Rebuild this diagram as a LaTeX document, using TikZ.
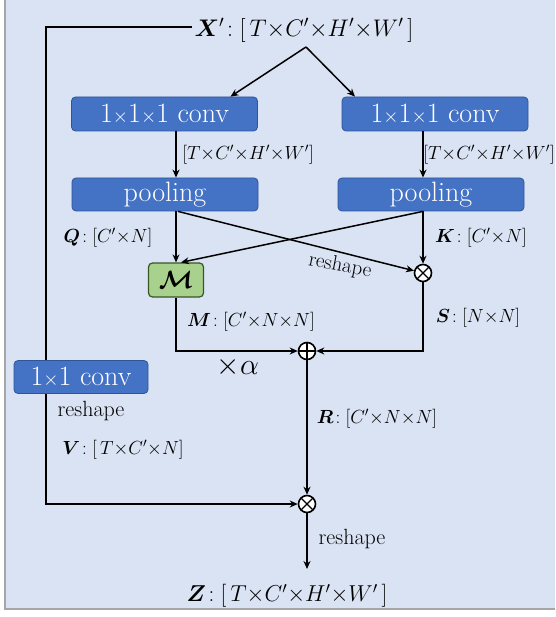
\RequirePackage{fix-cm}
\documentclass[tikz,border=0pt]{standalone}
\usepackage{amsmath,bm}
\usetikzlibrary{arrows.meta,calc}
\definecolor{bgblue}{HTML}{DAE3F3}
\definecolor{boxblue}{HTML}{4472C4}
\definecolor{boxedge}{HTML}{2F5597}
\definecolor{mgreen}{HTML}{A9D18E}
\definecolor{medge}{HTML}{385723}
\definecolor{frame}{HTML}{A6A6A6}
\tikzset{
  arr/.style={line width=1.5pt,-{Stealth[length=8pt,width=7pt]}},
  convbox/.style={draw=boxedge,line width=0.8pt,fill=boxblue,rounded corners=4pt,text=white,
    font=\fontsize{28}{31}\selectfont,inner sep=0pt},
  lab/.style={font=\fontsize{19}{22}\selectfont,inner sep=1pt},
  wordlab/.style={font=\fontsize{22}{26}\selectfont,inner sep=1pt},
  otimesnode/.style={circle,draw,line width=1.6pt,fill=white,minimum size=17pt,inner sep=0pt,
    path picture={\draw[line width=1.3pt] (path picture bounding box.north west)--(path picture bounding box.south east)
      (path picture bounding box.north east)--(path picture bounding box.south west);}},
  oplusnode/.style={circle,draw,line width=1.6pt,fill=white,minimum size=17pt,inner sep=0pt,
    path picture={\draw[line width=1.3pt] (path picture bounding box.north)--(path picture bounding box.south)
      (path picture bounding box.east)--(path picture bounding box.west);}},
}
\newcommand{\stimes}{\ensuremath{\scriptstyle\times}}
\begin{document}
\begin{tikzpicture}[x=1pt,y=-1pt]
\useasboundingbox (0,0) rectangle (555,617);
\fill[bgblue] (5,0) rectangle (555,609);
\draw[frame,line width=1.2pt] (5,0) -- (5,609) -- (555,609);

% nodes
\node[font=\fontsize{24}{28}\selectfont,inner sep=2pt] (xlab) at (304,30) {$\bm{X}'\!:[\,T{\times}C'{\times}H'{\times}W'\,]$};
\coordinate (apex) at (306,47);
\node[convbox,minimum width=186pt,minimum height=34pt] (c1) at (164.5,114) {1\stimes1\stimes1 conv};
\node[convbox,minimum width=186pt,minimum height=34pt] (c2) at (435,114) {1\stimes1\stimes1 conv};
\node[convbox,minimum width=186pt,minimum height=33pt] (p1) at (165,194.5) {pooling};
\node[convbox,minimum width=186pt,minimum height=33pt] (p2) at (431,194.5) {pooling};
\coordinate (xl) at (176,0);
\coordinate (xr) at (423,0);
\node[draw=medge,line width=1.2pt,fill=mgreen,rounded corners=4pt,minimum width=55pt,minimum height=34pt,inner sep=0pt,
  font=\fontsize{25}{28}\selectfont] (mbox) at (176,280) {$\bm{\mathcal{M}}$};
\node[otimesnode] (ot1) at (423,273) {};
\node[oplusnode] (op) at (307,351) {};
\node[otimesnode] (ot2) at (307,504) {};
\coordinate (lc) at (46,27);
\coordinate (zend) at (307,569);
\node[font=\fontsize{23}{27}\selectfont] (zlab) at (287,596) {$\bm{Z}\!:[\,T{\times}C'{\times}H'{\times}W'\,]$};

% labels
\node[lab] (l1) at (248,155) {$[T{\times}C'{\times}H'{\times}W']$};
\node[lab] (l2) at (489,155) {$[T{\times}C'{\times}H'{\times}W']$};
\node[lab] (lq) at (108,238) {$\bm{Q}\!:[C'{\times}N]$};
\node[lab] (lk) at (481,238) {$\bm{K}\!:[C'{\times}N]$};
\node[font=\fontsize{21}{24}\selectfont,inner sep=0pt,rotate=-11] (lrs) at (340,266) {reshape};
\node[lab] (lm) at (251,322) {$\bm{M}\!:[C'{\times}N{\times}N]$};
\node[lab] (ls) at (478,318) {$\bm{S}\!:[N{\times}N]$};
\node[font=\fontsize{30}{34}\selectfont] (la) at (238,367) {$\times\alpha$};
\node[lab] (lr) at (377,419) {$\bm{R}\!:[C'{\times}N{\times}N]$};
\node[wordlab] (lrs2) at (91,411) {reshape};
\node[lab] (lv) at (123,450) {$\bm{V}\!:[\,T{\times}C'{\times}N]$};
\node[wordlab] (lrs3) at (352,539) {reshape};

% connectors
\draw[arr] (apex) -- ($(c1.north)+(66,0)$);
\draw[arr] (apex) -- ($(c2.north)+(-80,0)$);
\draw[arr] (c1.south -| xl) -- (p1.north -| xl);
\draw[arr] (c2.south -| xr) -- (p2.north -| xr);
\draw[arr] (p1.south -| xl) -- (mbox.north -| xl);
\draw[arr] ($(p1.south -| xl)+(2,0)$) -- (ot1);
\draw[arr] (p2.south -| xr) -- ($(mbox.north)+(5,0)$);
\draw[arr] (p2.south -| xr) -- (ot1);
\draw[arr] (mbox.south) |- (op);
\draw[arr] (ot1.south) |- (op);
\draw[arr] (op) -- (ot2);
\draw[arr] (ot2) -- (zend);
\draw[arr] (xlab.west |- lc) -- (lc) |- (ot2);

\node[convbox,minimum width=134pt,minimum height=33pt] (vc) at (81,377) {1\stimes1 conv};
\end{tikzpicture}
\end{document}
